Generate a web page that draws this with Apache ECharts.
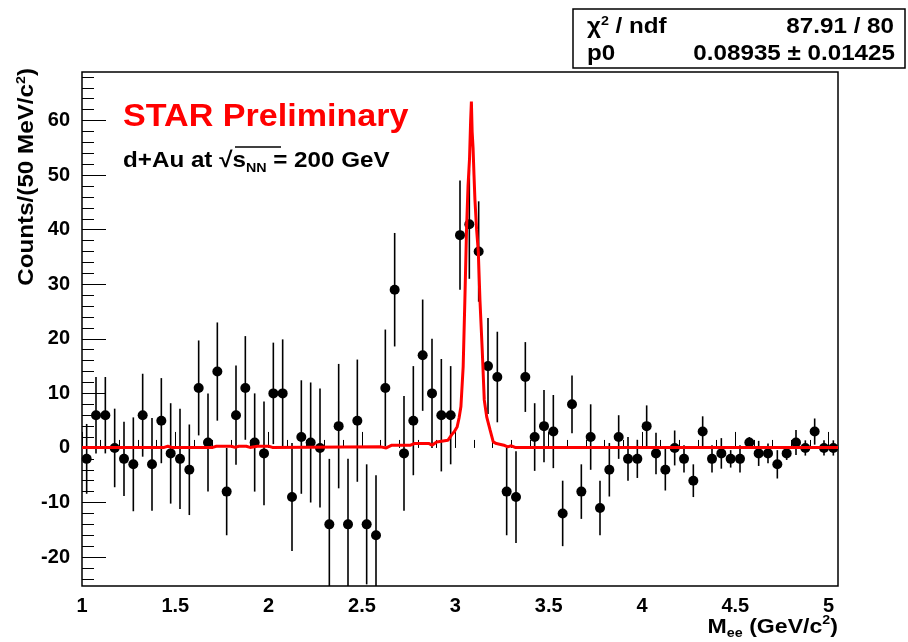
<!DOCTYPE html>
<html>
<head>
<meta charset="utf-8">
<title>STAR d+Au dielectron mass</title>
<script src="https://cdn.jsdelivr.net/npm/echarts@6/dist/echarts.min.js"></script>
<style>
  html, body { margin: 0; padding: 0; background: #fff; }
  #chart { width: 908px; height: 642px; }
</style>
</head>
<body>
<div id="chart"></div>
<script>
// 50 MeV bins, 1.00 - 5.05 GeV/c2
var binLo = 1.0, binW = 0.05;

// counts per bin (like-sign subtracted)
var counts = [
  -2, 6, 6, 0, -2, -3, 6, -3, 5, -1,
  -2, -4, 11, 1, 14, -8, 6, 11, 1, -1,
  10, 10, -9, 2, 1, 0, -14, 4, -14, 5,
  -14, -16, 11, 29, -1, 5, 17, 10, 6, 6,
  39, 41, 36, 15, 13, -8, -9, 13, 2, 4,
  3, -12, 8, -8, 2, -11, -4, 2, -2, -2,
  4, -1, -4, 0, -2, -6, 3, -2, -1, -2,
  -2, 1, -1, -1, -3, -1, 1, 0, 3, 0, 0
];
var errors = [
  6.4, 7, 7, 7.2, 6.8, 8.6, 7.6, 8.5, 7.8, 9.2,
  9.2, 8.3, 8.7, 9, 9, 8, 9.1, 9.5, 9, 9.5,
  9.3, 9.9, 9.9, 10.4, 11, 10.9, 12, 11.4, 12, 11.2,
  11, 11, 10.7, 10.4, 10.5, 10, 10.2, 10, 10.3, 9,
  10, 10, 9.2, 8.8, 8.3, 8, 8.4, 6.4, 6.2, 6.6,
  6.7, 6, 5.3, 5, 6, 5, 4.9, 4, 4, 3.5,
  3.8, 3.8, 3.8, 3.2, 2.5, 3, 2.8, 2.5, 2.8, 1.6,
  2.5, 1, 2.3, 1.8, 2.6, 1.2, 2.3, 1.4, 2.4, 1.4, 1.4
];

// fitted template (red curve)
var fitX = [1.00, 1.44, 1.46, 1.48, 1.70, 1.72, 1.80, 1.82, 1.84, 1.88, 1.90, 1.94, 2.00, 2.02,
  2.60, 2.63, 2.66, 2.76, 2.78, 2.86, 2.875, 2.90, 2.96, 2.98, 2.995, 3.01, 3.02, 3.03,
  3.042, 3.051, 3.06, 3.068, 3.076, 3.082, 3.086, 3.09, 3.095, 3.10, 3.105, 3.114, 3.123,
  3.132, 3.144, 3.155, 3.168, 3.186, 3.203, 3.22, 3.26, 3.28, 3.30, 3.32, 5.05];
var fitY = [0.1, 0.1, 0.3, 0.1, 0.1, 0.3, 0.3, 0.1, 0.3, 0.3, 0.1, 0.3, 0.3, 0.1,
  0.2, 0.0, 0.5, 0.5, 0.8, 0.8, 0.5, 1.1, 1.4, 2.4, 3.0, 3.9, 5.5, 7.6,
  14.9, 27, 40, 48, 53, 60, 63.5, 58, 55, 50, 45.5, 40, 36,
  27, 18, 8.8, 5.7, 3.3, 1.1, 0.8, 0.5, 0.2, 0.4, 0.1, 0.1];

var xRange = [1, 5.05], yRange = [-25.3, 68.9];
var xTickRange = [1, 5], yMajorRange = [-20, 60], yMinorRange = [-24, 68];

// frame in pixels
var L = 82, R = 838, T = 72, B = 586;
var pxX = (R - L) / (xRange[1] - xRange[0]);
var pxY = (B - T) / (yRange[1] - yRange[0]);

var font = 'Liberation Sans, Arial, Helvetica, sans-serif';
var STRETCH = 1.1;

var mass = counts.map(function (v, i) { return +(binLo + (i + 0.5) * binW).toFixed(3); });
var points = counts.map(function (v, i) { return [mass[i], v]; });
var bars = counts.map(function (v, i) { return [mass[i], v, errors[i]]; });
var fitLine = fitX.map(function (x, i) { return [x, fitY[i]]; });

var labelStyle = { color: '#000', fontFamily: font, fontWeight: 'bold', fontSize: 20 };

function hiddenX(gi) { return { gridIndex: gi, type: 'value', show: false, min: xRange[0], max: xRange[1] }; }
function hiddenY(gi) { return { gridIndex: gi, type: 'value', show: false, min: yRange[0], max: yRange[1] }; }

var chart = echarts.init(document.getElementById('chart'), null, { renderer: 'canvas' });

var option = {
  animation: false,
  backgroundColor: '#fff',
  grid: [
    { left: L, top: T, width: R - L, height: B - T, show: true, borderColor: '#000', borderWidth: 1.5, backgroundColor: 'transparent' },
    // x ticks 1..5
    { left: L, top: T, width: (xTickRange[1] - xTickRange[0]) * pxX, height: B - T },
    // y major ticks -20..60
    { left: L, top: T + (yRange[1] - yMajorRange[1]) * pxY, width: R - L, height: (yMajorRange[1] - yMajorRange[0]) * pxY },
    // y minor ticks -24..68
    { left: L, top: T + (yRange[1] - yMinorRange[1]) * pxY, width: R - L, height: (yMinorRange[1] - yMinorRange[0]) * pxY }
  ],
  xAxis: [
    hiddenX(0),
    {
      gridIndex: 1, type: 'value', min: xTickRange[0], max: xTickRange[1], interval: 0.5,
      axisLine: { show: false },
      axisTick: { inside: true, length: 16, lineStyle: { color: '#000', width: 1 } },
      minorTick: { show: true, splitNumber: 5, length: 8, lineStyle: { color: '#000', width: 1 } },
      splitLine: { show: false },
      axisLabel: Object.assign({ margin: 10 }, labelStyle)
    },
    hiddenX(2),
    hiddenX(3)
  ],
  yAxis: [
    hiddenY(0),
    hiddenY(1),
    {
      gridIndex: 2, type: 'value', min: yMajorRange[0], max: yMajorRange[1], interval: 10,
      axisLine: { show: false },
      axisTick: { inside: true, length: 24, lineStyle: { color: '#000', width: 1 } },
      splitLine: { show: false },
      axisLabel: Object.assign({ margin: 12 }, labelStyle)
    },
    {
      gridIndex: 3, type: 'value', min: yMinorRange[0], max: yMinorRange[1], interval: 2,
      axisLine: { show: false },
      axisTick: { inside: true, length: 12, lineStyle: { color: '#000', width: 1 } },
      splitLine: { show: false },
      axisLabel: { show: false }
    }
  ],
  series: [
    {
      type: 'custom',
      xAxisIndex: 0, yAxisIndex: 0,
      clip: true,
      data: bars,
      renderItem: function (params, api) {
        var x = api.value(0), y = api.value(1), e = api.value(2);
        var lo = api.coord([x, y - e]);
        var hi = api.coord([x, y + e]);
        return {
          type: 'line',
          shape: { x1: lo[0], y1: lo[1], x2: hi[0], y2: hi[1] },
          style: { stroke: '#000', lineWidth: 1.6 }
        };
      }
    },
    {
      type: 'scatter',
      xAxisIndex: 0, yAxisIndex: 0,
      symbol: 'circle',
      symbolSize: 10,
      itemStyle: { color: '#000', opacity: 1 },
      data: points
    },
    {
      type: 'line',
      xAxisIndex: 0, yAxisIndex: 0,
      showSymbol: false,
      clip: true,
      lineStyle: { color: '#ff0000', width: 3 },
      data: fitLine
    }
  ],
  graphic: [
    // stats box
    { type: 'rect', shape: { x: 573, y: 9, width: 332, height: 59 }, style: { fill: '#fff', stroke: '#000', lineWidth: 1.5 } },
    { type: 'text', x: 587, y: 27, scaleX: STRETCH, style: { text: 'χ{sup|2} / ndf', fill: '#000', font: 'bold 22px ' + font, verticalAlign: 'middle', lineHeight: 24,
      rich: { sup: { fontSize: 13, fontWeight: 'bold', fontFamily: font, fill: '#000', verticalAlign: 'top', lineHeight: 13 } } } },
    { type: 'text', x: 894, y: 27, scaleX: STRETCH, style: { text: '87.91 / 80', fill: '#000', font: 'bold 22px ' + font, align: 'right', verticalAlign: 'middle' } },
    { type: 'text', x: 587, y: 54, scaleX: STRETCH, style: { text: 'p0', fill: '#000', font: 'bold 22px ' + font, verticalAlign: 'middle' } },
    { type: 'text', x: 895, y: 54, scaleX: STRETCH, style: { text: '0.08935 ± 0.01425', fill: '#000', font: 'bold 22px ' + font, align: 'right', verticalAlign: 'middle' } },
    // labels in the pad
    { type: 'text', x: 123, y: 117, scaleX: STRETCH, style: { text: 'STAR Preliminary', fill: '#ff0000', font: 'bold 31px ' + font, verticalAlign: 'middle' } },
    { type: 'text', x: 123, y: 161, scaleX: STRETCH, style: { text: 'd+Au at √s{sub|NN} = 200 GeV', fill: '#000', font: 'bold 22px ' + font, verticalAlign: 'middle', lineHeight: 28,
      rich: { sub: { fontSize: 13, fontWeight: 'bold', fontFamily: font, fill: '#000', verticalAlign: 'bottom', lineHeight: 13 } } } },
    { type: 'line', shape: { x1: 235, y1: 147, x2: 281, y2: 147 }, style: { stroke: '#000', lineWidth: 1.5 } },
    // axis titles
    { type: 'text', x: 27, y: 68, rotation: Math.PI / 2, scaleX: STRETCH, style: { text: 'Counts/(50 MeV/c{sup|2})', fill: '#000', font: 'bold 22px ' + font, align: 'right', verticalAlign: 'middle', lineHeight: 24,
      rich: { sup: { fontSize: 13, fontWeight: 'bold', fontFamily: font, fill: '#000', verticalAlign: 'top', lineHeight: 13 } } } },
    { type: 'text', x: 838, y: 627, scaleX: STRETCH, style: { text: 'M{sub|ee} (GeV/c{sup|2})', fill: '#000', font: 'bold 21px ' + font, align: 'right', verticalAlign: 'middle', lineHeight: 26,
      rich: {
        sub: { fontSize: 13, fontWeight: 'bold', fontFamily: font, fill: '#000', verticalAlign: 'bottom', lineHeight: 13 },
        sup: { fontSize: 13, fontWeight: 'bold', fontFamily: font, fill: '#000', verticalAlign: 'top', lineHeight: 13 }
      } } }
  ]
};

chart.setOption(option);
</script>
</body>
</html>
